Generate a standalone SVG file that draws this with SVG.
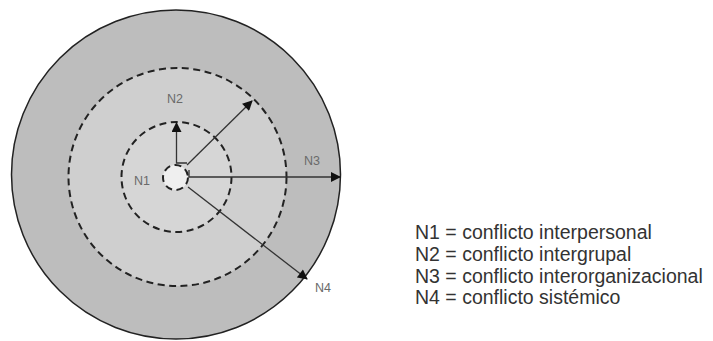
<svg xmlns="http://www.w3.org/2000/svg" width="713" height="341" viewBox="0 0 713 341">
  <defs>
    <marker id="ah" viewBox="0 0 10 10" refX="9" refY="5" markerWidth="11" markerHeight="10" markerUnits="userSpaceOnUse" orient="auto">
      <path d="M0,0 L10,5 L0,10 Z" fill="#111"/>
    </marker>
    <style>
      .dash { stroke: #222; stroke-width: 2; stroke-dasharray: 7 4.5; }
      .conn { stroke: #333; stroke-width: 1.3; fill: none; }
      .lbl { font-family: "Liberation Sans", Arial, sans-serif; font-size: 12.5px; fill: #6a6a6a; }
      .leg { font-family: "Liberation Sans", Arial, sans-serif; font-size: 19.5px; fill: #333; }
    </style>
  </defs>
  <rect width="713" height="341" fill="#fff"/>
  <g id="n4">
    <circle cx="176" cy="174.5" r="164.5" fill="#bdbdbd" stroke="#222" stroke-width="1.5"/>
  </g>
  <g id="n3">
    <circle cx="177.5" cy="177" r="109" fill="#cfcfcf" class="dash"/>
  </g>
  <g id="n2">
    <circle cx="176.5" cy="177" r="55" fill="#d6d6d6" class="dash"/>
  </g>
  <g id="n1">
    <circle cx="175.5" cy="177.5" r="12.5" fill="#efefef" class="dash" stroke-dasharray="5 3"/>
  </g>
  <g id="connectors">
    <path class="conn" d="M187,163 L176.5,163 L176.5,123" marker-end="url(#ah)"/>
    <path class="conn" d="M187,165 L252,101" marker-end="url(#ah)"/>
    <path class="conn" d="M189,170 L189,177 L340,177" marker-end="url(#ah)"/>
    <path class="conn" d="M188,187 L307,279" marker-end="url(#ah)"/>
  </g>
  <g id="labels">
    <text class="lbl" x="175" y="103" text-anchor="middle">N2</text>
    <text class="lbl" x="142" y="185" text-anchor="middle">N1</text>
    <text class="lbl" x="312" y="165" text-anchor="middle">N3</text>
    <text class="lbl" x="323" y="292" text-anchor="middle">N4</text>
  </g>
  <g id="legend">
    <text class="leg" x="415" y="239">N1 = conflicto interpersonal</text>
    <text class="leg" x="415" y="261">N2 = conflicto intergrupal</text>
    <text class="leg" x="415" y="283">N3 = conflicto interorganizacional</text>
    <text class="leg" x="415" y="304">N4 = conflicto sistémico</text>
  </g>
</svg>
